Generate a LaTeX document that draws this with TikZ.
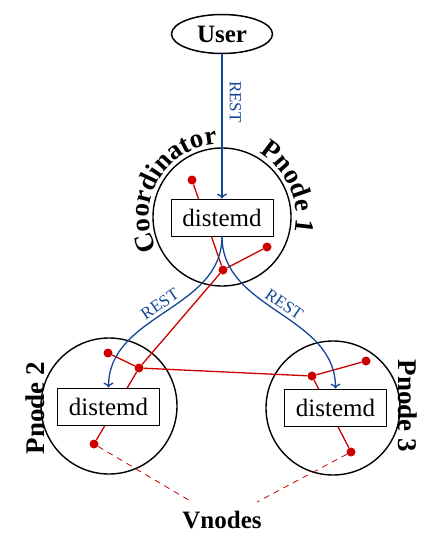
\documentclass[tikz,border=0pt]{standalone}
\usepackage{fontspec}
\setmainfont{Liberation Serif}
\usetikzlibrary{shapes.geometric,decorations.text,arrows.meta}
\definecolor{vred}{RGB}{204,0,0}
\definecolor{rblue}{RGB}{20,70,150}
\newcommand\lblfont{\fontsize{27}{30}\selectfont\bfseries}
\begin{document}
\begin{tikzpicture}[x=1pt,y=1pt,
    pnode/.style={shape=circle,draw=black,line width=1.4pt},
    dbox/.style={draw=black,fill=white,line width=0.8pt,minimum width=102pt,minimum height=37pt,font=\fontsize{25}{30}\selectfont},
    vdot/.style={shape=circle,fill=vred,inner sep=0pt,minimum size=9pt},
    vlink/.style={draw=vred,line width=1.3pt},
    rest/.style={draw=rblue,line width=1.3pt,-{To[length=5pt,width=10pt]}},
    restlbl/.style={text=rblue,font=\fontsize{17}{20}\selectfont,sloped,above}]
    \useasboundingbox (0,0) rectangle (426,-535);

    \node[shape=ellipse,draw=black,line width=1.5pt,minimum width=101pt,minimum height=39pt,inner sep=0pt,font=\fontsize{25}{30}\selectfont\bfseries] (user) at (222,-34) {User};

    \node[pnode,minimum size=138pt] (coord) at (222,-217) {};
    \node[pnode,minimum size=136pt] (pn2) at (109,-406) {};
    \node[pnode,minimum size=134pt] (pn3) at (333,-408) {};

    % vnodes
    \node[vdot] (c1) at (192,-180) {};
    \node[vdot] (c2) at (267,-247) {};
    \node[vdot] (ch) at (223,-270) {};
    \node[vdot] (p2a) at (108,-353) {};
    \node[vdot] (p2h) at (139,-368) {};
    \node[vdot] (p2b) at (94,-444) {};
    \node[vdot] (p3a) at (366,-361) {};
    \node[vdot] (p3h) at (312,-376) {};
    \node[vdot] (p3b) at (351,-452) {};

    \draw[vlink] (c1) -- (ch);
    \draw[vlink] (c2) -- (ch);
    \draw[vlink] (ch) -- (p2h);
    \draw[vlink] (p2a) -- (p2h);
    \draw[vlink] (p2h) -- (p2b);
    \draw[vlink] (p2h) -- (p3h);
    \draw[vlink] (p3a) -- (p3h);
    \draw[vlink] (p3h) -- (p3b);

    \node[dbox] (d1) at (222,-217.5) {distemd};
    \node[dbox] (d2) at (108.5,-406.5) {distemd};
    \node[dbox] (d3) at (335.5,-407.5) {distemd};

    \draw[rest] (user) -- node[restlbl,pos=0.33,inner sep=7pt] {REST} (d1);
    \draw[rest] (d1.south) to[out=-90,in=90] node[restlbl,pos=0.5] {REST} (d2.north);
    \draw[rest] (d1.south) to[out=-90,in=90] node[restlbl,pos=0.5] {REST} (d3.north);

    \node[font=\fontsize{25}{30}\selectfont\bfseries] (vn) at (222,-520) {Vnodes};
    \coordinate (vl) at (192,-502);
    \coordinate (vr) at (257,-502);
    \draw[draw=vred,line width=0.8pt,dash pattern=on 6pt off 5pt] (p2b) -- (vl);
    \draw[draw=vred,line width=0.8pt,dash pattern=on 6pt off 5pt] (p3b) -- (vr);

    \node[rotate=90,font=\lblfont] (l2) at (35,-408) {Pnode 2};
    \node[rotate=-90,font=\lblfont] (l3) at (408,-406) {Pnode 3};
    \path[decorate,decoration={text along path,text align=center,text={|\lblfont|Coordinator}}]
      (coord.center) ++(215:73) arc[start angle=215,end angle=85,radius=73];
    \path[decorate,decoration={text along path,text align=center,text={|\lblfont|Pnode 1}}]
      (coord.center) ++(84:74) arc[start angle=84,end angle=-36,radius=74];

  \end{tikzpicture}
\end{document}
